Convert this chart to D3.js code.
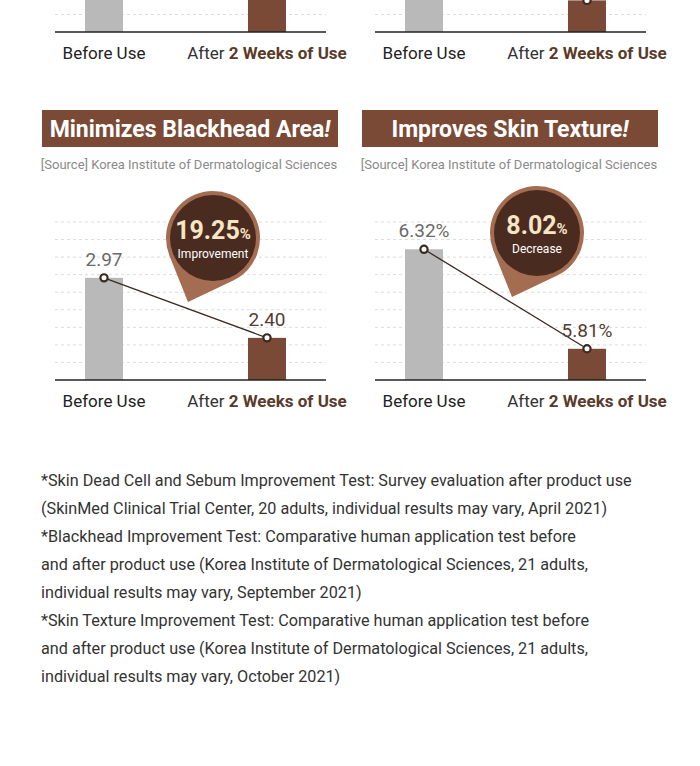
<!DOCTYPE html>
<html>
<head>
<meta charset="utf-8">
<script src="https://d3js.org/d3.v7.min.js"></script>
<style>
  body { margin: 0; background: #fff; }
  svg { display: block; font-family: Roboto, "Noto Sans", sans-serif; }
</style>
</head>
<body>
<div id="chart"></div>
<script>
// ---- data ----
var categories = ["Before Use", "After 2 Weeks of Use"];

// partial panels cut off at the top of the picture (values estimated)
var topLeftValues = [8.5, 4.0];
var topRightValues = [7.5, 2.0];

var blackheadValues = [2.97, 2.40];
var blackheadLabels = ["2.97", "2.40"];
var blackheadBubble = ["19.25", "%", "Improvement"];

var textureValues = [6.32, 5.81];
var textureLabels = ["6.32%", "5.81%"];
var textureBubble = ["8.02", "%", "Decrease"];

var titles = ["Minimizes Blackhead Area", "Improves Skin Texture"];
var sourceText = "[Source] Korea Institute of Dermatological Sciences";

var footnotes = [
  "*Skin Dead Cell and Sebum Improvement Test: Survey evaluation after product use",
  "(SkinMed Clinical Trial Center, 20 adults, individual results may vary, April 2021)",
  "*Blackhead Improvement Test: Comparative human application test before",
  "and after product use (Korea Institute of Dermatological Sciences, 21 adults,",
  "individual results may vary, September 2021)",
  "*Skin Texture Improvement Test: Comparative human application test before",
  "and after product use (Korea Institute of Dermatological Sciences, 21 adults,",
  "individual results may vary, October 2021)"
];

// ---- colours ----
var brown = "#7a4a36";
var gray = "#b9b9b9";
var darkLine = "#3b2a22";

var svg = d3.select("#chart").append("svg")
    .attr("width", 700)
    .attr("height", 766);

function drawPanel(opt) {
    var g = svg.append("g");
    var x = d3.scalePoint().domain(categories).range([opt.x0 + 49, opt.x0 + 212]);
    var y = d3.scaleLinear().domain(opt.domain).range([opt.baseY, opt.baseY - 158]);
    var barW = 38;

    // dashed grid lines
    var gridVals = d3.range(1, 10).map(function (i) {
        return opt.domain[0] + i * (opt.domain[1] - opt.domain[0]) / 9;
    });
    g.selectAll(".grid").data(gridVals).join("line")
        .attr("x1", opt.x0).attr("x2", opt.x0 + 271)
        .attr("y1", function (d) { return y(d); })
        .attr("y2", function (d) { return y(d); })
        .attr("stroke", "#dcdcdc")
        .attr("stroke-dasharray", "3,3");

    // bars
    g.selectAll(".bar").data(opt.values).join("rect")
        .attr("x", function (d, i) { return x(categories[i]) - barW / 2; })
        .attr("y", function (d) { return y(d); })
        .attr("width", barW)
        .attr("height", function (d) { return opt.baseY - y(d); })
        .attr("fill", function (d, i) { return i === 0 ? gray : brown; });

    // baseline
    g.append("line")
        .attr("x1", opt.x0).attr("x2", opt.x0 + 271)
        .attr("y1", opt.baseY).attr("y2", opt.baseY)
        .attr("stroke", "#222").attr("stroke-width", 1.6);

    // connecting line + dots
    var line = d3.line()
        .x(function (d, i) { return x(categories[i]); })
        .y(function (d) { return y(d); });
    g.append("path").datum(opt.values)
        .attr("d", line)
        .attr("fill", "none")
        .attr("stroke", darkLine)
        .attr("stroke-width", 1.3);
    g.selectAll(".dot").data(opt.values).join("circle")
        .attr("cx", function (d, i) { return x(categories[i]); })
        .attr("cy", function (d) { return y(d); })
        .attr("r", 3.6)
        .attr("fill", "#fff")
        .attr("stroke", darkLine)
        .attr("stroke-width", 2.2);

    // value labels
    if (opt.labels) {
        g.selectAll(".val").data(opt.labels).join("text")
            .attr("x", function (d, i) { return x(categories[i]); })
            .attr("y", function (d, i) { return y(opt.values[i]) - 12; })
            .attr("text-anchor", "middle")
            .attr("font-size", 19)
            .attr("font-weight", 400)
            .attr("fill", function (d, i) { return i === 0 ? "#6a6a6a" : "#553d31"; })
            .text(function (d) { return d; });
    }

    // category labels
    g.append("text")
        .attr("x", x(categories[0])).attr("y", opt.baseY + 27)
        .attr("text-anchor", "middle")
        .attr("font-size", 17)
        .attr("fill", "#222")
        .text(categories[0]);
    var after = g.append("text")
        .attr("x", x(categories[1])).attr("y", opt.baseY + 27)
        .attr("text-anchor", "middle")
        .attr("font-size", 17)
        .attr("fill", "#333");
    var parts = categories[1].split(" ");
    after.append("tspan").text(parts[0] + " ");
    after.append("tspan").attr("font-weight", 700).attr("fill", "#5a3a2a")
        .text(parts.slice(1).join(" "));

    // speech bubble
    if (opt.bubble) {
        var cx = x(categories[0]) + opt.bubbleDx, cy = opt.baseY + opt.bubbleDy;
        var R = 47, ax = cx - 25, ay = cy + 64;
        var d = Math.hypot(ax - cx, ay - cy);
        var th = Math.atan2(ay - cy, ax - cx);
        var al = Math.acos(R / d);
        var p1 = [cx + R * Math.cos(th - al), cy + R * Math.sin(th - al)];
        var path = d3.path();
        path.moveTo(ax, ay);
        path.lineTo(p1[0], p1[1]);
        path.arc(cx, cy, R, th - al, th + al - 2 * Math.PI, true);
        path.closePath();
        g.append("path").attr("d", path.toString()).attr("fill", "#a46c50");
        g.append("circle").attr("cx", cx).attr("cy", cy).attr("r", 43)
            .attr("fill", "#4a2b1f");
        var t = g.append("text")
            .attr("x", cx).attr("y", cy + 1)
            .attr("text-anchor", "middle")
            .attr("fill", "#f6e6c6")
            .attr("font-weight", 700);
        t.append("tspan").attr("font-size", 25).text(opt.bubble[0]);
        t.append("tspan").attr("font-size", 15).text(opt.bubble[1]);
        g.append("text")
            .attr("x", cx).attr("y", cy + 20)
            .attr("text-anchor", "middle")
            .attr("fill", "#fff")
            .attr("font-size", 12)
            .text(opt.bubble[2]);
    }
}

// partial panels at the top
drawPanel({ x0: 55, baseY: 32, domain: [0, 10], values: topLeftValues });
drawPanel({ x0: 375, baseY: 32, domain: [0, 10], values: topRightValues });

// title banners
[42, 362].forEach(function (bx, i) {
    svg.append("rect")
        .attr("x", bx).attr("y", 110)
        .attr("width", 296).attr("height", 37)
        .attr("fill", brown);
    var t = svg.append("text")
        .attr("x", bx + 148).attr("y", 137)
        .attr("text-anchor", "middle")
        .attr("fill", "#fff")
        .attr("font-size", 23)
        .attr("font-weight", 700);
    t.append("tspan").text(titles[i]);
    t.append("tspan").attr("font-style", "italic").text("!");
    svg.append("text")
        .attr("x", bx + 147).attr("y", 169)
        .attr("text-anchor", "middle")
        .attr("fill", "#8a8a8a")
        .attr("font-size", 13)
        .text(sourceText);
});

drawPanel({ x0: 55, baseY: 380, domain: [2.0, 3.5], values: blackheadValues,
    labels: blackheadLabels, bubble: blackheadBubble, bubbleDx: 109, bubbleDy: -142 });
drawPanel({ x0: 375, baseY: 380, domain: [5.65, 6.46], values: textureValues,
    labels: textureLabels, bubble: textureBubble, bubbleDx: 113, bubbleDy: -147 });

// footnotes
svg.selectAll(".note").data(footnotes).join("text")
    .attr("x", 41)
    .attr("y", function (d, i) { return 486 + i * 28; })
    .attr("font-size", 16.2)
    .attr("fill", "#333")
    .text(function (d) { return d; });
</script>
</body>
</html>
